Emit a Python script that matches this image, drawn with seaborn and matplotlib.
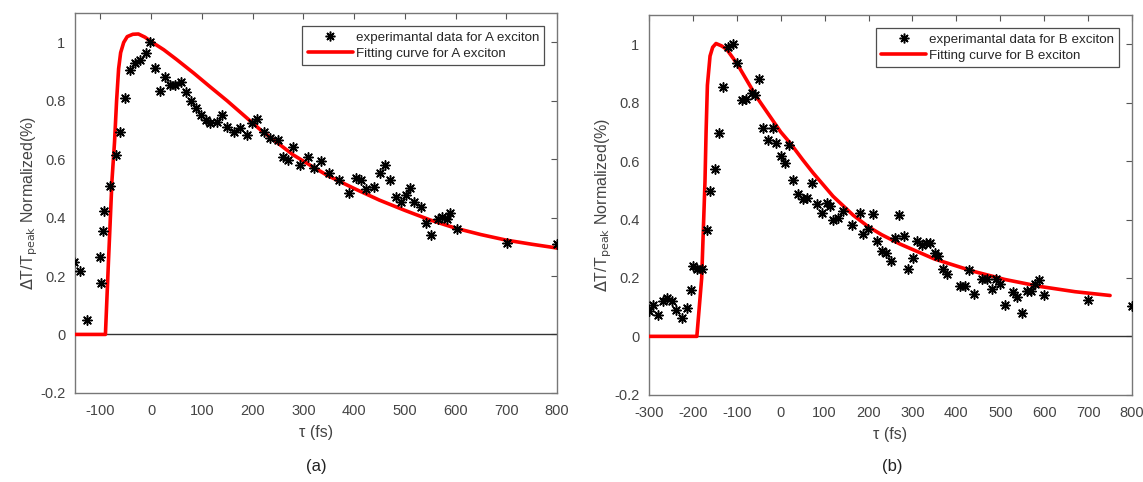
import numpy as np
import pandas as pd
import seaborn as sns
import matplotlib.pyplot as plt
from matplotlib.lines import Line2D

# --- panel (a): A exciton ---
a_tau = [-151, -139.5, -126, -101, -98.6, -94.7, -92, -81.6, -68.4, -60.5, -50.7, -42, -31, -21, -11, -1.4,
         8.5, 18, 28, 38, 48, 58, 69.6, 78.9, 89, 98.6, 109, 117, 129, 140, 150, 163, 176, 189, 199, 209,
         222, 235, 249.7, 260, 269.5, 280, 293, 309, 322, 335, 350, 370, 389.7, 403, 413, 422.7, 440,
         451, 460.7, 470.6, 482, 492, 501.6, 511, 519, 531, 541, 551, 565, 574, 584, 590, 602, 701, 801]
a_sig = [0.247, 0.217, 0.049, 0.264, 0.175, 0.355, 0.424, 0.509, 0.615, 0.695, 0.809, 0.906, 0.929, 0.941, 0.964, 1.0,
         0.912, 0.834, 0.88, 0.855, 0.855, 0.866, 0.829, 0.798, 0.775, 0.752, 0.735, 0.724, 0.729, 0.752, 0.71, 0.695,
         0.706, 0.683, 0.724, 0.737, 0.695, 0.672, 0.666, 0.609, 0.598, 0.643, 0.58, 0.609, 0.569, 0.595, 0.552,
         0.529, 0.484, 0.535, 0.529, 0.497, 0.504, 0.552, 0.58, 0.529, 0.472, 0.455, 0.478, 0.50, 0.455, 0.438,
         0.383, 0.34, 0.394, 0.401, 0.394, 0.417, 0.36, 0.312, 0.31]
a_fit_tau = [-150, -90, -84, -77, -72, -68, -64, -60, -54, -47, -36, -25, -12, 0, 25, 50, 84, 115, 150, 183,
             216, 250, 280, 315, 347, 400, 450, 500, 550, 600, 650, 700, 750, 800]
a_fit_sig = [0, 0, 0.25, 0.53, 0.66, 0.8, 0.91, 0.965, 1.0, 1.02, 1.028, 1.029, 1.018, 1.003, 0.975, 0.942,
             0.895, 0.85, 0.80, 0.75, 0.70, 0.655, 0.615, 0.578, 0.545, 0.50, 0.46, 0.425, 0.392, 0.364,
             0.342, 0.323, 0.309, 0.296]

# --- panel (b): B exciton ---
b_tau = [-301, -290, -279, -269, -258, -248, -238, -225.5, -213, -205, -199, -191, -180, -169, -161, -150,
         -140, -131, -119.4, -109.5, -100, -89, -79, -66, -58.5, -48.7, -39.6, -28, -18, -10.7, 0, 9.8,
         19.6, 28.7, 40, 51.5, 59, 70.6, 82, 93.4, 104.8, 112, 119.8, 131, 142.6, 161.7, 180.6, 188, 199.5,
         211, 218.6, 230, 240, 250.5, 260, 270, 281, 290.7, 300.7, 309.8, 321, 331, 340, 351.5, 359, 369,
         378, 408, 420, 429.6, 439, 458, 469, 480.6, 490, 499.5, 511, 530, 537.6, 549, 560, 569.4, 579,
         589, 600, 700.7, 799.5]
b_sig = [0.087, 0.108, 0.074, 0.12, 0.131, 0.12, 0.091, 0.063, 0.097, 0.16, 0.24, 0.229, 0.229, 0.363, 0.497,
         0.574, 0.697, 0.854, 0.99, 1.0, 0.937, 0.811, 0.813, 0.834, 0.825, 0.88, 0.714, 0.674, 0.714, 0.663,
         0.617, 0.595, 0.655, 0.537, 0.486, 0.469, 0.474, 0.526, 0.452, 0.423, 0.457, 0.446, 0.40, 0.406,
         0.429, 0.383, 0.423, 0.349, 0.366, 0.42, 0.326, 0.291, 0.286, 0.257, 0.337, 0.417, 0.345, 0.229,
         0.269, 0.328, 0.314, 0.32, 0.32, 0.287, 0.276, 0.229, 0.215, 0.174, 0.174, 0.226, 0.146, 0.197,
         0.197, 0.162, 0.197, 0.18, 0.109, 0.151, 0.135, 0.08, 0.157, 0.157, 0.18, 0.194, 0.143, 0.126, 0.105]
b_fit_tau = [-300, -191, -180, -172.5, -170, -167, -161, -155, -147.4, -135, -123, -100, -55, 0, 21, 50,
             73.6, 119, 165, 200, 230, 272, 350, 438, 510, 590, 670, 750]
b_fit_sig = [0, 0, 0.2, 0.53, 0.7, 0.86, 0.96, 0.99, 1.003, 0.995, 0.983, 0.935, 0.82, 0.70, 0.663, 0.605,
             0.56, 0.48, 0.415, 0.375, 0.348, 0.316, 0.265, 0.223, 0.195, 0.171, 0.153, 0.14]

sns.set_theme(style="white")
plt.rcParams['font.family'] = ['Liberation Sans', 'DejaVu Sans']
plt.rcParams['axes.unicode_minus'] = False

fig = plt.figure(figsize=(11.43, 4.82), dpi=100)
ax_a = fig.add_axes([0.0656, 0.185, 0.4217, 0.7875])
ax_b = fig.add_axes([0.5678, 0.181, 0.4226, 0.7875])

star = (8, 2, 0)
grey = '#555555'


def panel(ax, tau, sig, ftau, fsig, xlim, xticks, name, tag, tag_x):
    pts = pd.DataFrame({'tau': tau, 'sig': sig})
    fit = pd.DataFrame({'tau': ftau, 'sig': fsig})
    ax.axhline(0, color='#333333', lw=1.0, zorder=1)
    sns.lineplot(data=fit, x='tau', y='sig', ax=ax, color='#ff0000', lw=2.6, zorder=3)
    sns.scatterplot(data=pts, x='tau', y='sig', ax=ax, marker=star, s=45, color='black',
                    linewidth=1.1, zorder=4)
    ax.set_xlim(*xlim)
    ax.set_ylim(-0.2, 1.1)
    ax.set_xticks(xticks)
    ax.set_yticks([-0.2, 0, 0.2, 0.4, 0.6, 0.8, 1])
    ax.set_yticklabels(['-0.2', '0', '0.2', '0.4', '0.6', '0.8', '1'])
    ax.tick_params(direction='in', top=True, right=True, length=4, width=0.8,
                   colors=grey, labelcolor='#444444', labelsize=10.5)
    ax.tick_params(axis='x', pad=8)
    ax.tick_params(axis='y', pad=7)
    for s in ax.spines.values():
        s.set_color('#777777')
        s.set_linewidth(1.0)
    ax.set_xlabel('τ (fs)', fontsize=11.5, color='#444444', labelpad=5)
    ax.set_ylabel(r'$\Delta$T/T$_{\mathrm{peak}}$ Normalized(%)', fontsize=11.5, color='#444444', labelpad=0)
    handles = [Line2D([], [], ls='none', marker=star, ms=7, mew=1.1, color='black'),
               Line2D([], [], color='#ff0000', lw=2.6)]
    leg = ax.legend(handles, ['experimantal data for %s exciton' % name, 'Fitting curve for %s exciton' % name],
                    loc='upper right', fontsize=9.6, frameon=True, fancybox=False, handlelength=3.4,
                    borderpad=0.4, labelspacing=0.3, handletextpad=0.2, borderaxespad=0.95)
    leg.get_frame().set_edgecolor('#222222')
    leg.get_frame().set_linewidth(0.9)
    fig.text(tag_x, 0.022, tag, fontsize=12, ha='center', color='#222222')


panel(ax_a, a_tau, a_sig, a_fit_tau, a_fit_sig, (-150, 800), list(range(-100, 801, 100)), 'A', '(a)', 0.277)
panel(ax_b, b_tau, b_sig, b_fit_tau, b_fit_sig, (-300, 800), list(range(-300, 801, 100)), 'B', '(b)', 0.781)

fig.savefig('out.png', dpi=100, facecolor='white')
